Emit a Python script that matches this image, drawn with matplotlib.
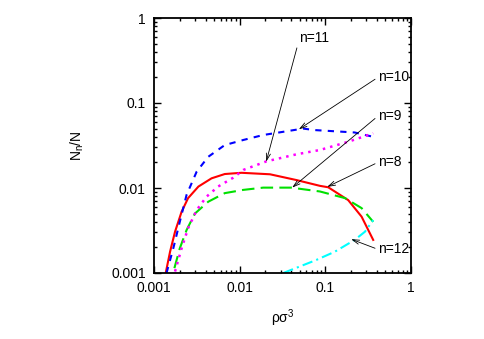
import matplotlib.pyplot as plt
from matplotlib.ticker import LogLocator, NullFormatter, FixedLocator

plt.rcParams['font.family'] = ['Liberation Sans', 'DejaVu Sans']
plt.rcParams['font.size'] = 10
plt.rcParams['mathtext.default'] = 'regular'

# n=8 (red, solid)
x8 = [0.00137, 0.00154, 0.00176, 0.0021, 0.0025, 0.0033, 0.0047, 0.0067, 0.0105,
      0.0226, 0.046, 0.0865, 0.108, 0.185, 0.265, 0.362]
y8 = [0.001, 0.00178, 0.00306, 0.00526, 0.0076, 0.0104, 0.013, 0.0146, 0.0151,
      0.0145, 0.0124, 0.0106, 0.0102, 0.0072, 0.0046, 0.00245]
# n=9 (green, dashed)
x9 = [0.00173, 0.002, 0.0024, 0.003, 0.0043, 0.0067, 0.011, 0.0188, 0.04, 0.0865,
      0.17, 0.265, 0.362]
y9 = [0.00114, 0.00195, 0.0032, 0.005, 0.0069, 0.0087, 0.0095, 0.0101, 0.0101, 0.0091,
      0.0076, 0.0058, 0.004]
# n=10 (blue, dashed)
x10 = [0.0014, 0.00168, 0.002, 0.0024, 0.00315, 0.0043, 0.0067, 0.011, 0.0188, 0.055,
       0.0757, 0.22, 0.362]
y10 = [0.001, 0.00195, 0.004, 0.0083, 0.0156, 0.0233, 0.032, 0.0367, 0.042, 0.05,
       0.048, 0.045, 0.040]
# n=11 (magenta, dotted)
x11 = [0.00176, 0.0021, 0.0025, 0.00315, 0.0041, 0.0056, 0.0084, 0.011, 0.0206, 0.046,
       0.0865, 0.185, 0.362]
y11 = [0.00104, 0.00195, 0.00336, 0.0055, 0.0079, 0.0104, 0.0132, 0.0163, 0.0206, 0.0249,
       0.028, 0.035, 0.044]
# n=12 (cyan, dash-dot)
x12 = [0.0323, 0.078, 0.129, 0.22, 0.29, 0.362]
y12 = [0.001, 0.00142, 0.00178, 0.00245, 0.00306, 0.0042]

labels = ['n=8', 'n=9', 'n=10', 'n=11', 'n=12']
label_pos = [(0.41, 0.02), (0.41, 0.07), (0.41, 0.2), (0.05, 0.58), (0.41, 0.0019)]
arrow_to = [(0.105, 0.0103), (0.041, 0.0101), (0.049, 0.049), (0.0204, 0.0204), (0.2, 0.0025)]

fig = plt.figure(figsize=(4.85, 3.39), dpi=100)
ax = fig.add_axes([154 / 485, 1 - 273 / 339, 257 / 485, 255 / 339])

ax.plot(x8, y8, color='red', lw=1.5, ls='-')
ax.plot(x9, y9, color='#00e000', lw=1.5, ls=(0, (6, 3)))
ax.plot(x10, y10, color='blue', lw=1.5, ls=(0, (3, 3)))
ax.plot(x11, y11, color='magenta', lw=1.8, ls=(0, (1, 2)))
ax.plot(x12, y12, color='cyan', lw=1.5, ls=(0, (5, 2, 1, 2)))

for lab, p, t in zip(labels, label_pos, arrow_to):
    ax.annotate(lab, xy=t, xytext=p, ha='left', va='center', fontsize=10,
                arrowprops=dict(arrowstyle='->,head_length=0.5,head_width=0.15',
                                color='black', lw=0.6, shrinkA=0, shrinkB=0,
                                relpos=(0, 0.5)))

ax.set_xscale('log')
ax.set_yscale('log')
ax.set_xlim(0.001, 1)
ax.set_ylim(0.001, 1)
ax.xaxis.set_major_locator(FixedLocator([0.001, 0.01, 0.1, 1]))
ax.yaxis.set_major_locator(FixedLocator([0.001, 0.01, 0.1, 1]))
ax.set_xticklabels(['0.001', '0.01', '0.1', '1'])
ax.set_yticklabels(['0.001', '0.01', '0.1', '1'])
ax.xaxis.set_minor_locator(LogLocator(base=10, subs=range(2, 10)))
ax.yaxis.set_minor_locator(LogLocator(base=10, subs=range(2, 10)))
ax.xaxis.set_minor_formatter(NullFormatter())
ax.yaxis.set_minor_formatter(NullFormatter())
ax.tick_params(which='both', direction='in', top=True, right=True, width=1)
ax.tick_params(which='major', length=5, pad=6)
ax.tick_params(which='minor', length=2.5)
for s in ax.spines.values():
    s.set_linewidth(1.3)

ax.set_xlabel('ρσ$^3$', labelpad=9)
ax.set_ylabel('N$_n$/N', labelpad=18)

fig.savefig('out.png', dpi=100)
